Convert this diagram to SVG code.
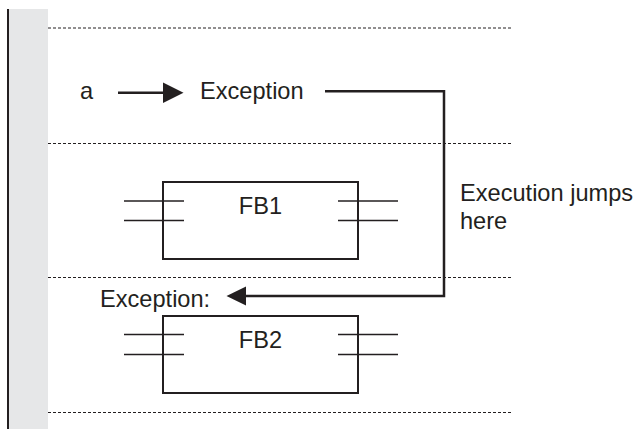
<svg xmlns="http://www.w3.org/2000/svg" width="639" height="429" viewBox="0 0 639 429">
<style>
text{font-family:"Liberation Sans",Arial,sans-serif;font-size:23.6px;fill:#231f20}
.dash{stroke:#231f20;stroke-width:1;stroke-dasharray:3 2;fill:none}
.box{fill:none;stroke:#231f20;stroke-width:2}
.pin{stroke:#231f20;stroke-width:1.3}
.conn{stroke:#231f20;stroke-width:2.5;fill:none}
.head{fill:#231f20}
</style>
<g id="rail">
<rect x="9" y="9" width="39" height="420" fill="#e6e7e8"/>
<line x1="8" y1="9" x2="8" y2="429" stroke="#231f20" stroke-width="2"/>
</g>
<g id="rungs">
<line class="dash" x1="48" y1="28" x2="511" y2="28"/>
<line class="dash" x1="48" y1="143.5" x2="511" y2="143.5"/>
<line class="dash" x1="48" y1="277.5" x2="511" y2="277.5"/>
<line class="dash" x1="48" y1="412.5" x2="511" y2="412.5"/>
</g>
<g id="label-a"><text x="80" y="98.5">a</text></g>
<g id="exception-coil"><text x="200" y="98.5">Exception</text></g>
<g id="FB1">
<line class="pin" x1="124" y1="201" x2="184" y2="201"/>
<line class="pin" x1="124" y1="220.5" x2="184" y2="220.5"/>
<line class="pin" x1="338" y1="201" x2="398" y2="201"/>
<line class="pin" x1="338" y1="220.5" x2="398" y2="220.5"/>
<rect class="box" x="163" y="182" width="195" height="77"/>
<text x="260.5" y="213.5" text-anchor="middle">FB1</text>
</g>
<g id="label-exception"><text x="100" y="307">Exception:</text></g>
<g id="FB2">
<line class="pin" x1="124" y1="334.5" x2="184" y2="334.5"/>
<line class="pin" x1="124" y1="354.5" x2="184" y2="354.5"/>
<line class="pin" x1="338" y1="334.5" x2="398" y2="334.5"/>
<line class="pin" x1="338" y1="354.5" x2="398" y2="354.5"/>
<rect class="box" x="163" y="316" width="195" height="77"/>
<text x="260.5" y="348" text-anchor="middle">FB2</text>
</g>
<g id="note"><text x="460" y="201">Execution jumps</text><text x="460" y="228.5">here</text></g>
<g id="connectors">
<line class="conn" x1="118" y1="92.7" x2="164" y2="92.7"/>
<polygon class="head" points="163,82.5 183.5,92.7 163,103"/>
<polyline class="conn" points="325,91.3 444,91.3 444,296 244,296"/>
<polygon class="head" points="246,286.5 226.5,296 246,305.5"/>
</g>
</svg>
